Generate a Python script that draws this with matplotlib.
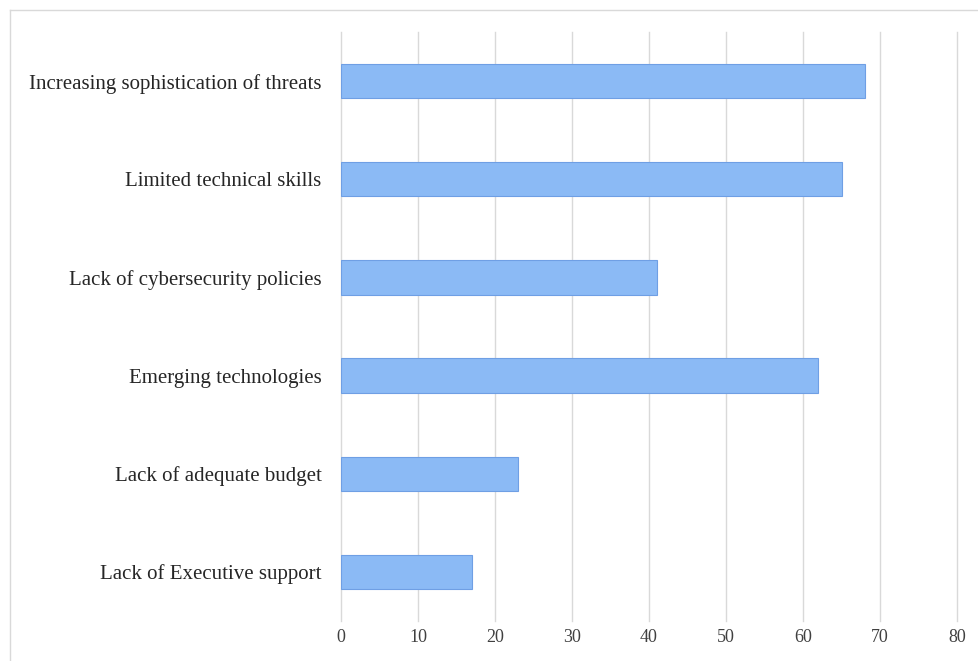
import matplotlib

matplotlib.use("Agg")
import matplotlib.pyplot as plt
from matplotlib.lines import Line2D

categories = [
    "Increasing sophistication of threats",
    "Limited technical skills",
    "Lack of cybersecurity policies",
    "Emerging technologies",
    "Lack of adequate budget",
    "Lack of Executive support",
]
values = [68, 65, 41, 62, 23, 17]
x_ticks = [0, 10, 20, 30, 40, 50, 60, 70, 80]

plt.rcParams["font.family"] = ["Liberation Serif", "DejaVu Serif"]

fig = plt.figure(figsize=(9.79, 6.61), dpi=100)
ax = fig.add_axes([341 / 979, 40 / 661, 616 / 979, 589 / 661])

# cropped chart frame: only the top and left edges are visible
left_x, top_y = 9.5 / 979, 1 - 9.5 / 661
fig.add_artist(Line2D([left_x, 1], [top_y, top_y], transform=fig.transFigure,
                      color="#d9d9d9", linewidth=1.0))
fig.add_artist(Line2D([left_x, left_x], [0, top_y], transform=fig.transFigure,
                      color="#d9d9d9", linewidth=1.0))

positions = list(range(len(categories)))[::-1]
ax.barh(positions, values, height=0.35, color="#8bbaf5", edgecolor="#6f9fe4", linewidth=0.8, zorder=3)

ax.set_xlim(0, 80)
ax.set_ylim(-0.5, len(categories) - 0.5)
ax.set_xticks(x_ticks)
ax.set_xticklabels([str(t) for t in x_ticks], fontsize=13, color="#404040")
ax.set_yticks(positions)
ax.set_yticklabels(categories, fontsize=15, color="#262626")
ax.tick_params(axis="x", length=0, pad=6)
ax.tick_params(axis="y", length=0, pad=14)
ax.grid(axis="x", color="#d9d9d9", linewidth=1.0, zorder=0)
for line in ax.get_xgridlines():
    line.set_clip_on(False)
for spine in ax.spines.values():
    spine.set_visible(False)

fig.savefig("out.png", dpi=100)
